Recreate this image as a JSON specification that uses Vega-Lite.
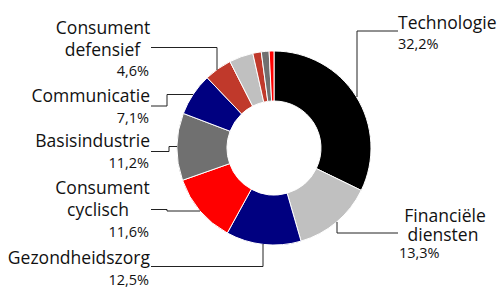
{
  "$schema": "https://vega.github.io/schema/vega-lite/v6.json",
  "width": 499,
  "height": 287,
  "padding": 0,
  "autosize": {"type": "fit", "contains": "padding"},
  "background": "white",
  "config": {"view": {"stroke": null}, "text": {"font": "Open Sans", "color": "#111111"}},
  "datasets": {
    "slices": [
      {"category": "Technologie", "value": 32.2, "order": 1},
      {"category": "Financiële diensten", "value": 13.3, "order": 2},
      {"category": "Gezondheidszorg", "value": 12.5, "order": 3},
      {"category": "Consument cyclisch", "value": 11.6, "order": 4},
      {"category": "Basisindustrie", "value": 11.2, "order": 5},
      {"category": "Communicatie", "value": 7.1, "order": 6},
      {"category": "Consument defensief", "value": 4.6, "order": 7},
      {"category": "Nutsbedrijven", "value": 4.0, "order": 8},
      {"category": "Energie", "value": 1.4, "order": 9},
      {"category": "Vastgoed", "value": 1.3, "order": 10},
      {"category": "Overig", "value": 0.8, "order": 11}
    ],
    "names": [
      {"t": "Technologie", "x": 398, "y": 29, "a": "left"},
      {"t": "Financiële", "x": 445, "y": 221.5, "a": "center"},
      {"t": "diensten", "x": 443, "y": 241, "a": "center"},
      {"t": "Consument", "x": 103, "y": 33.5, "a": "center"},
      {"t": "defensief", "x": 102.5, "y": 56, "a": "center"},
      {"t": "Communicatie", "x": 150, "y": 102, "a": "right"},
      {"t": "Basisindustrie", "x": 150, "y": 147, "a": "right"},
      {"t": "Consument", "x": 102.5, "y": 193.5, "a": "center"},
      {"t": "cyclisch", "x": 98, "y": 216, "a": "center"},
      {"t": "Gezondheidszorg", "x": 150, "y": 263.5, "a": "right"}
    ],
    "pcts": [
      {"t": "32,2%", "x": 398, "y": 48.5, "a": "left"},
      {"t": "13,3%", "x": 399, "y": 258, "a": "left"},
      {"t": "4,6%", "x": 149, "y": 75.5, "a": "right"},
      {"t": "7,1%", "x": 149, "y": 123, "a": "right"},
      {"t": "11,2%", "x": 149, "y": 168, "a": "right"},
      {"t": "11,6%", "x": 149, "y": 237, "a": "right"},
      {"t": "12,5%", "x": 149, "y": 284.5, "a": "right"}
    ],
    "leaders": [
      {"id": 1, "i": 1, "x": 398, "y": 31},
      {"id": 1, "i": 2, "x": 357, "y": 31},
      {"id": 1, "i": 3, "x": 357, "y": 97},
      {"id": 2, "i": 1, "x": 398, "y": 233},
      {"id": 2, "i": 2, "x": 337, "y": 233},
      {"id": 2, "i": 3, "x": 337, "y": 222},
      {"id": 3, "i": 1, "x": 151, "y": 266.5},
      {"id": 3, "i": 2, "x": 263, "y": 266.5},
      {"id": 3, "i": 3, "x": 263, "y": 244},
      {"id": 4, "i": 1, "x": 151, "y": 209.5},
      {"id": 4, "i": 2, "x": 167, "y": 209.5},
      {"id": 4, "i": 3, "x": 167, "y": 211},
      {"id": 4, "i": 4, "x": 200, "y": 211},
      {"id": 5, "i": 1, "x": 151, "y": 151.5},
      {"id": 5, "i": 2, "x": 169, "y": 151.5},
      {"id": 5, "i": 3, "x": 169, "y": 146.5},
      {"id": 5, "i": 4, "x": 177, "y": 146.5},
      {"id": 6, "i": 1, "x": 151, "y": 106},
      {"id": 6, "i": 2, "x": 167, "y": 106},
      {"id": 6, "i": 3, "x": 167, "y": 94.5},
      {"id": 6, "i": 4, "x": 193, "y": 94.5},
      {"id": 7, "i": 1, "x": 151, "y": 47.5},
      {"id": 7, "i": 2, "x": 217, "y": 47.5},
      {"id": 7, "i": 3, "x": 217, "y": 70}
    ]
  },
  "layer": [
    {
      "data": {"name": "slices"},
      "mark": {"type": "arc", "outerRadius": 97, "innerRadius": 47, "stroke": "white", "strokeWidth": 1},
      "encoding": {
        "x": {"datum": 274, "type": "quantitative", "scale": {"domain": [0, 499], "nice": false, "zero": false}, "axis": null},
        "y": {"datum": 148, "type": "quantitative", "scale": {"domain": [0, 287], "nice": false, "zero": false, "reverse": true}, "axis": null},
        "theta": {"field": "value", "type": "quantitative", "stack": true},
        "order": {"field": "order", "type": "quantitative", "sort": "ascending"},
        "color": {
          "field": "category", "type": "nominal", "legend": null,
          "scale": {
            "domain": ["Technologie", "Financiële diensten", "Gezondheidszorg", "Consument cyclisch", "Basisindustrie", "Communicatie", "Consument defensief", "Nutsbedrijven", "Energie", "Vastgoed", "Overig"],
            "range": ["#000000", "#c0c0c0", "#000080", "#ff0000", "#707070", "#000080", "#c0392b", "#c0c0c0", "#c0392b", "#707070", "#ff0000"]
          }
        }
      }
    },
    {
      "data": {"name": "leaders"},
      "mark": {"type": "line", "stroke": "#222222", "strokeWidth": 1, "interpolate": "linear"},
      "encoding": {
        "x": {"field": "x", "type": "quantitative"},
        "y": {"field": "y", "type": "quantitative"},
        "detail": {"field": "id", "type": "nominal"},
        "order": {"field": "i", "type": "quantitative"}
      }
    },
    {
      "data": {"name": "names"},
      "transform": [{"filter": "datum.a === 'left'"}],
      "mark": {"type": "text", "align": "left", "baseline": "alphabetic", "fontSize": 17.5},
      "encoding": {"x": {"field": "x", "type": "quantitative"}, "y": {"field": "y", "type": "quantitative"}, "text": {"field": "t"}}
    },
    {
      "data": {"name": "names"},
      "transform": [{"filter": "datum.a === 'center'"}],
      "mark": {"type": "text", "align": "center", "baseline": "alphabetic", "fontSize": 17.5},
      "encoding": {"x": {"field": "x", "type": "quantitative"}, "y": {"field": "y", "type": "quantitative"}, "text": {"field": "t"}}
    },
    {
      "data": {"name": "names"},
      "transform": [{"filter": "datum.a === 'right'"}],
      "mark": {"type": "text", "align": "right", "baseline": "alphabetic", "fontSize": 17.5},
      "encoding": {"x": {"field": "x", "type": "quantitative"}, "y": {"field": "y", "type": "quantitative"}, "text": {"field": "t"}}
    },
    {
      "data": {"name": "pcts"},
      "transform": [{"filter": "datum.a === 'left'"}],
      "mark": {"type": "text", "align": "left", "baseline": "alphabetic", "fontSize": 14.5},
      "encoding": {"x": {"field": "x", "type": "quantitative"}, "y": {"field": "y", "type": "quantitative"}, "text": {"field": "t"}}
    },
    {
      "data": {"name": "pcts"},
      "transform": [{"filter": "datum.a === 'right'"}],
      "mark": {"type": "text", "align": "right", "baseline": "alphabetic", "fontSize": 14.5},
      "encoding": {"x": {"field": "x", "type": "quantitative"}, "y": {"field": "y", "type": "quantitative"}, "text": {"field": "t"}}
    }
  ]
}
